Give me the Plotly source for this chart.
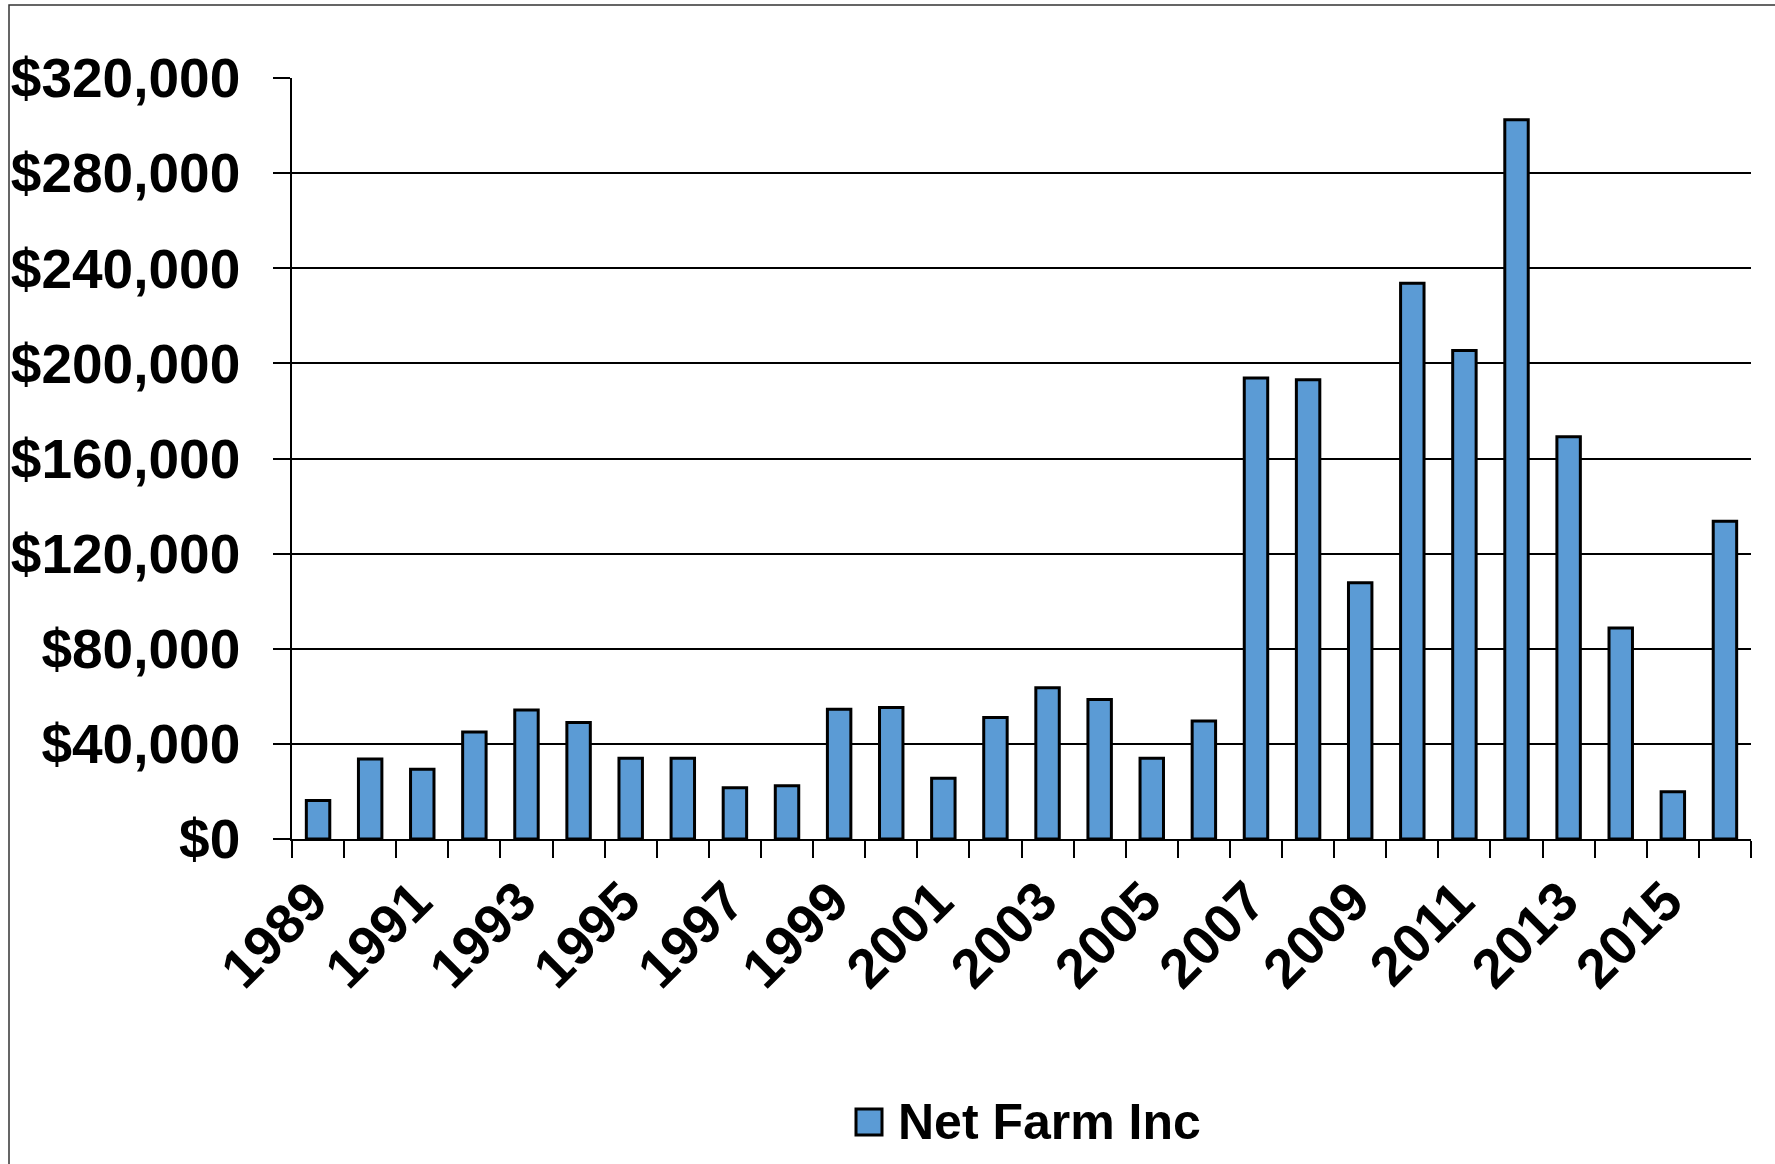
import plotly.graph_objects as go

years = list(range(1989, 2017))
net_farm_income = [
    16200, 33600, 29300, 45000, 54200, 49000, 34000, 34000, 21500, 22400,
    54600, 55300, 25500, 51100, 63600, 58700, 34000, 49600, 193800, 193100,
    107800, 233700, 205400, 302400, 169100, 88700, 19900, 133600,
]
label_years = list(range(1989, 2017, 2))
y_ticks = list(range(0, 320001, 40000))
y_tick_text = ["$" + format(v, ",") for v in y_ticks]
series_name = "Net Farm Inc"

W, H = 1775, 1164
L, R, T, B = 292, 1751, 78, 839  # plot area in pixels
PW, PH = R - L, B - T


def px(x):
    return (x - L) / PW


def py(y):
    return (B - y) / PH


FONT = "Liberation Sans, Arial, sans-serif"
BAR_COLOR = "#5B9BD5"

fig = go.Figure()
fig.add_trace(go.Bar(
    x=years, y=net_farm_income, name=series_name,
    marker=dict(color=BAR_COLOR, line=dict(color="black", width=3)),
    width=0.45, showlegend=False,
))

fig.update_layout(
    width=W, height=H,
    margin=dict(l=L, r=W - R, t=T, b=H - B, pad=0),
    paper_bgcolor="white", plot_bgcolor="white",
    font=dict(family=FONT, color="black"),
    showlegend=False,
)

fig.update_xaxes(
    range=[1988.5, 2016.5],
    tickmode="array", tickvals=[y - 0.13 for y in label_years],
    ticktext=[str(v) for v in label_years],
    tickangle=-45, ticks="", ticklabelstandoff=6,
    tickfont=dict(family=FONT, size=55, weight="bold", color="black"),
    showline=True, linecolor="black", linewidth=1.5,
    showgrid=False, zeroline=False,
    minor=dict(tick0=1988.5, dtick=1, ticks="outside", ticklen=17,
               tickwidth=1.5, tickcolor="black", showgrid=False),
)

fig.update_yaxes(
    range=[0, 320000], tickmode="array", tickvals=y_ticks, ticktext=y_tick_text,
    ticks="outside", ticklen=17, tickwidth=1.5, tickcolor="black",
    ticklabelstandoff=22,
    tickfont=dict(family=FONT, size=55, weight="bold", color="black"),
    showgrid=True, gridcolor="black", gridwidth=1.5,
    showline=True, linecolor="black", linewidth=1.5,
    zeroline=False,
)

# outer chart frame
fig.add_shape(type="rect", xref="paper", yref="paper",
              x0=px(9), x1=px(W + 20), y0=py(H + 20), y1=py(5),
              line=dict(color="#333333", width=1.5), fillcolor="rgba(0,0,0,0)",
              layer="below")

# legend entry
fig.add_shape(type="rect", xref="paper", yref="paper",
              x0=px(856), x1=px(882), y0=py(1135), y1=py(1109),
              line=dict(color="black", width=3), fillcolor=BAR_COLOR)
fig.add_annotation(xref="paper", yref="paper", x=px(896), y=py(1122),
                   text=series_name, showarrow=False, xanchor="left", yanchor="middle",
                   font=dict(family=FONT, size=50, weight="bold", color="black"))

fig.write_html("out.html", config={"displayModeBar": False},
               post_script="document.body.style.margin='0';document.body.style.overflow='hidden';")
